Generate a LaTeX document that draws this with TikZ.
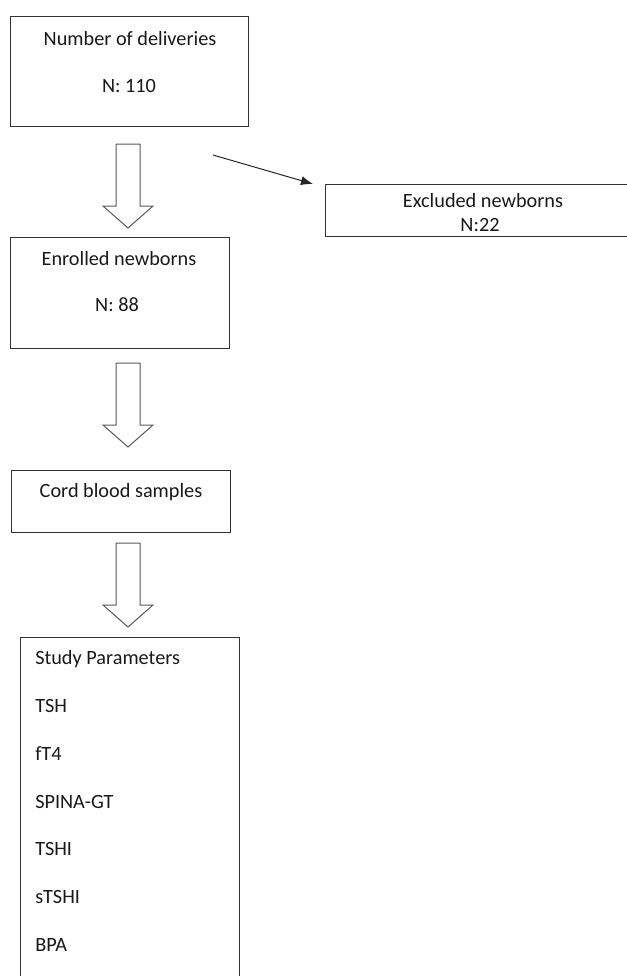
\documentclass[tikz,border=0pt]{standalone}
\usepackage{fontspec}
\setmainfont{Carlito}
\usetikzlibrary{arrows.meta}

\tikzset{
  box/.style={draw=black!80, line width=0.75pt, inner sep=0pt},
  txt/.style={text=black!90, inner sep=0pt, anchor=base, font=\fontsize{15.2}{18}\selectfont},
  item/.style={txt, anchor=base west},
  blockarr/.style={draw=black!65, line width=0.75pt, fill=white},
}
% hollow down arrow: centre x, top y
\newcommand{\downblock}[2]{%
  \draw[blockarr] ({#1-12},#2) -- ({#1+12},#2) -- ({#1+12},{#2+62}) -- ({#1+25},{#2+62})
    -- (#1,{#2+84}) -- ({#1-25},{#2+62}) -- ({#1-12},{#2+62}) -- cycle;}

\begin{document}
\begin{tikzpicture}[x=0.75pt, y=-0.75pt]
\useasboundingbox (0,0) rectangle (627,976);

% boxes
\node [box, minimum width=178.5pt, minimum height=82.5pt] (deliv) at (129,71) {};
\node [box, minimum width=227.25pt, minimum height=39pt] (excl) at (476.5,210) {};
\node [box, minimum width=164.25pt, minimum height=83.25pt] (enrol) at (119.5,292.5) {};
\node [box, minimum width=164.25pt, minimum height=46.5pt] (cord) at (120.5,501) {};
\node [box, minimum width=164.25pt, minimum height=264.75pt] (params) at (129.5,813.5) {};

% texts
\node [txt] (delivT) at (130,45) {Number of deliveries};
\node [txt] (delivN) at (129,92) {N: 110};
\node [txt] (exclT) at (483,207) {Excluded newborns};
\node [txt] (exclN) at (480,231) {N:22};
\node [txt] (enrolT) at (119,265) {Enrolled newborns};
\node [txt] (enrolN) at (117,311) {N: 88};
\node [txt] (cordT) at (121,497) {Cord blood samples};
\node [item] (parT) at (35,664) {Study Parameters};
\node [item] (par1) at (35,712) {TSH};
\node [item] (par2) at (35,760) {fT4};
\node [item] (par3) at (35,808) {SPINA-GT};
\node [item] (par4) at (35,855) {TSHI};
\node [item] (par5) at (35,903) {sTSHI};
\node [item] (par6) at (35,951) {BPA};

% block arrows
\downblock{128}{144}
\downblock{128}{363}
\downblock{128}{543}

% exclusion arrow
\coordinate (exStart) at (213,155);
\coordinate (exEnd) at (313,184);
\draw [black!85, line width=0.75pt, -{Latex[length=9pt, width=7pt]}] (exStart) -- (exEnd);
\end{tikzpicture}
\end{document}
